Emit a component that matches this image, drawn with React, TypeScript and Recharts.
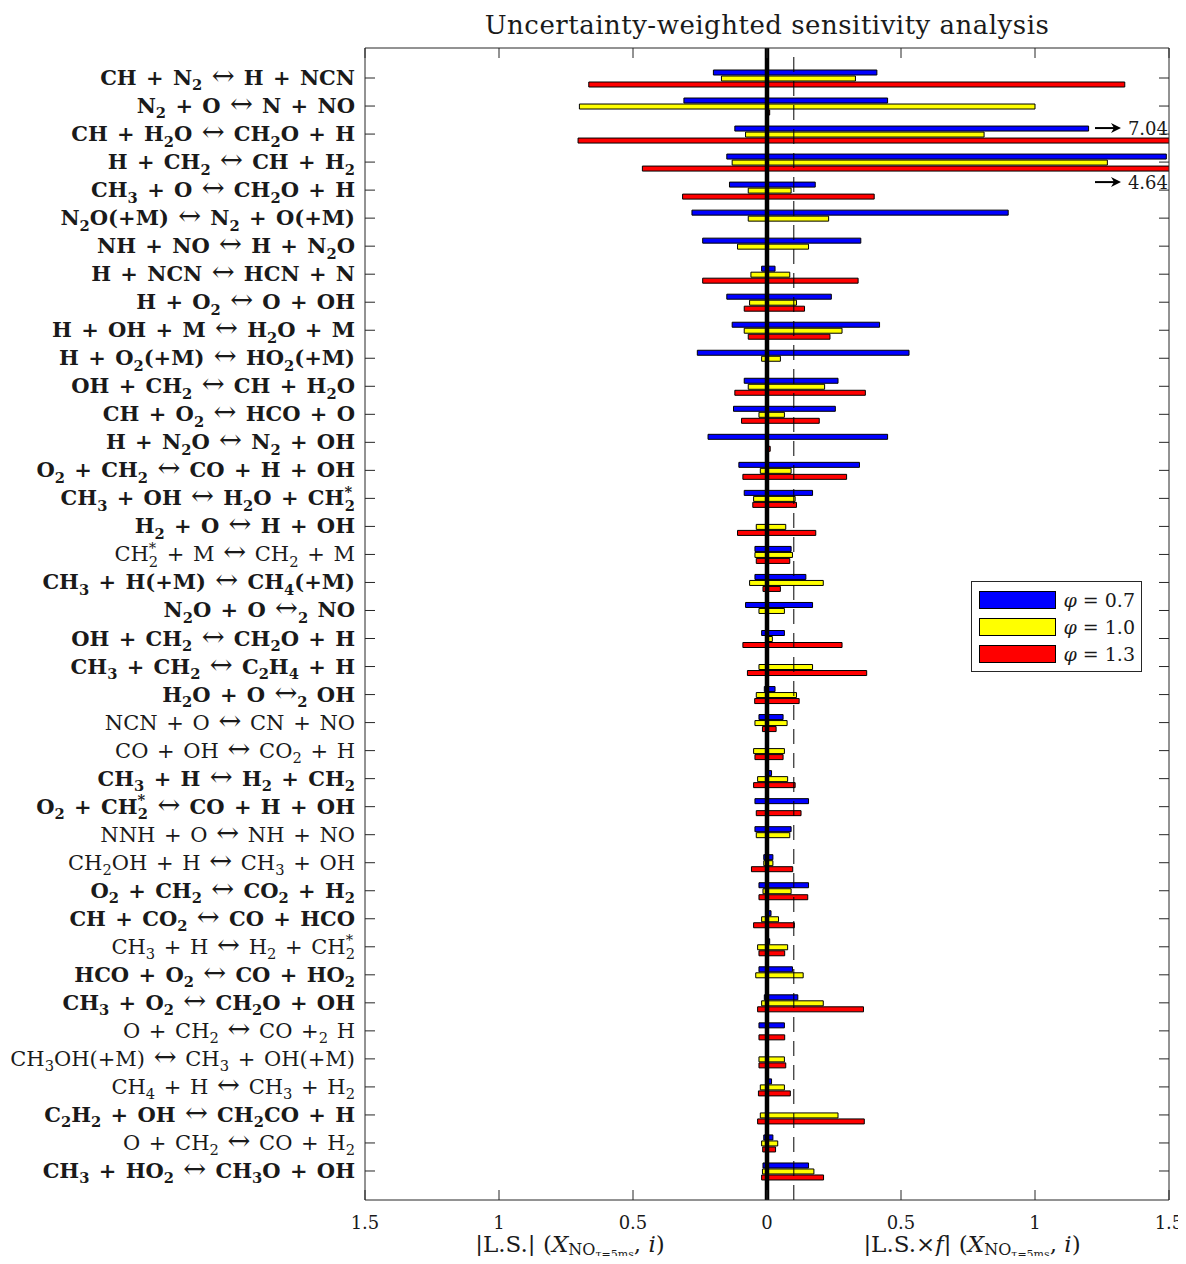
import React from 'react';
import { BarChart, Bar, XAxis, YAxis, ReferenceLine, ReferenceDot, Legend } from 'recharts';

const SERIF = '"DejaVu Serif", serif';
const AXIS = '#262626';
const TICK = 10;

const reactions = [
  'CH + N_2 ↔ H + NCN',
  'N_2 + O ↔ N + NO',
  'CH + H_2O ↔ CH_2O + H',
  'H + CH_2 ↔ CH + H_2',
  'CH_3 + O ↔ CH_2O + H',
  'N_2O(+M) ↔ N_2 + O(+M)',
  'NH + NO ↔ H + N_2O',
  'H + NCN ↔ HCN + N',
  'H + O_2 ↔ O + OH',
  'H + OH + M ↔ H_2O + M',
  'H + O_2(+M) ↔ HO_2(+M)',
  'OH + CH_2 ↔ CH + H_2O',
  'CH + O_2 ↔ HCO + O',
  'H + N_2O ↔ N_2 + OH',
  'O_2 + CH_2 ↔ CO + H + OH',
  'CH_3 + OH ↔ H_2O + CH^*_2',
  'H_2 + O ↔ H + OH',
  'CH^*_2 + M ↔ CH_2 + M',
  'CH_3 + H(+M) ↔ CH_4(+M)',
  'N_2O + O ↔_2 NO',
  'OH + CH_2 ↔ CH_2O + H',
  'CH_3 + CH_2 ↔ C_2H_4 + H',
  'H_2O + O ↔_2 OH',
  'NCN + O ↔ CN + NO',
  'CO + OH ↔ CO_2 + H',
  'CH_3 + H ↔ H_2 + CH_2',
  'O_2 + CH^*_2 ↔ CO + H + OH',
  'NNH + O ↔ NH + NO',
  'CH_2OH + H ↔ CH_3 + OH',
  'O_2 + CH_2 ↔ CO_2 + H_2',
  'CH + CO_2 ↔ CO + HCO',
  'CH_3 + H ↔ H_2 + CH^*_2',
  'HCO + O_2 ↔ CO + HO_2',
  'CH_3 + O_2 ↔ CH_2O + OH',
  'O + CH_2 ↔ CO +_2 H',
  'CH_3OH(+M) ↔ CH_3 + OH(+M)',
  'CH_4 + H ↔ CH_3 + H_2',
  'C_2H_2 + OH ↔ CH_2CO + H',
  'O + CH_2 ↔ CO + H_2',
  'CH_3 + HO_2 ↔ CH_3O + OH',
];

const boldLabels = [
  true, true, true, true, true, true, true, true, true, true,
  true, true, true, true, true, true, true, false, true, true,
  true, true, true, false, false, true, true, false, false, true,
  true, false, true, true, false, false, false, true, false, true,
];

const phiValues = ['0.7', '1.0', '1.3'];
const seriesColors = ['#0000ff', '#ffff00', '#ff0000'];

// |L.S.| (left side) and |L.S. x f| (right side) for each phi
const blueLS = [0.2, 0.31, 0.12, 0.15, 0.14, 0.28, 0.24, 0.02, 0.15, 0.13, 0.26, 0.085, 0.125, 0.22, 0.105, 0.085, 0, 0.045, 0.045, 0.08, 0.02, 0, 0.01, 0.03, 0, 0.005, 0.045, 0.045, 0.012, 0.03, 0.002, 0, 0.03, 0.01, 0.03, 0, 0, 0, 0.012, 0.015];
const blueLSf = [0.41, 0.45, 1.2, 1.49, 0.18, 0.9, 0.35, 0.03, 0.24, 0.42, 0.53, 0.265, 0.255, 0.45, 0.345, 0.17, 0, 0.09, 0.145, 0.17, 0.065, 0, 0.03, 0.06, 0, 0.017, 0.155, 0.09, 0.022, 0.155, 0.015, 0.01, 0.095, 0.115, 0.065, 0, 0.017, 0, 0.022, 0.155];
const yellowLS = [0.17, 0.7, 0.08, 0.13, 0.07, 0.07, 0.11, 0.06, 0.065, 0.085, 0.02, 0.07, 0.03, 0, 0.025, 0.05, 0.04, 0.045, 0.065, 0.03, 0.005, 0.03, 0.04, 0.045, 0.05, 0.035, 0, 0.04, 0.012, 0.015, 0.02, 0.035, 0.042, 0.02, 0, 0.03, 0.025, 0.025, 0.02, 0.017];
const yellowLSf = [0.33, 1.0, 0.81, 1.27, 0.09, 0.23, 0.155, 0.085, 0.11, 0.28, 0.05, 0.215, 0.065, 0, 0.09, 0.105, 0.07, 0.095, 0.21, 0.065, 0.02, 0.17, 0.11, 0.075, 0.065, 0.077, 0, 0.085, 0.022, 0.09, 0.043, 0.077, 0.135, 0.21, 0, 0.065, 0.065, 0.265, 0.04, 0.175];
const redLS = [0.665, 0, 0.705, 0.465, 0.315, 0, 0, 0.24, 0.085, 0.07, 0, 0.12, 0.095, 0, 0.09, 0.053, 0.11, 0.04, 0.015, 0, 0.09, 0.073, 0.046, 0.017, 0.045, 0.05, 0.04, 0, 0.058, 0.03, 0.05, 0.03, 0, 0.035, 0.03, 0.03, 0.032, 0.035, 0.016, 0.02];
const redLSf = [1.335, 0.01, 7.04, 4.64, 0.4, 0, 0, 0.34, 0.14, 0.235, 0, 0.367, 0.195, 0.012, 0.297, 0.11, 0.182, 0.085, 0.05, 0, 0.28, 0.372, 0.12, 0.034, 0.06, 0.105, 0.127, 0, 0.096, 0.152, 0.102, 0.066, 0, 0.36, 0.066, 0.07, 0.087, 0.363, 0.032, 0.211];

const xTicks = [-1.5, -1, -0.5, 0, 0.5, 1, 1.5];
const threshold = 0.1;
const xMax = 1.5;

// values that run past the axis limit, annotated with an arrow
const overflowNotes = [
  { reaction: 'CH + H_2O ↔ CH_2O + H', value: 7.04, dy: -6 },
  { reaction: 'H + CH_2 ↔ CH + H_2', value: 4.64, dy: 20 },
];

const data = reactions.map((name, i) => ({
  name,
  blue: [-blueLS[i], blueLSf[i]],
  yellow: [-yellowLS[i], yellowLSf[i]],
  red: [-redLS[i], redLSf[i]],
}));

type Part = { text: string; type: 'n' | 'sub' | 'sup' | 'arrow' };

function parseRich(s: string): Part[] {
  const parts: Part[] = [];
  let buf = '';
  let i = 0;
  const flush = () => {
    if (buf) { parts.push({ text: buf, type: 'n' }); buf = ''; }
  };
  while (i < s.length) {
    const c = s[i];
    if (c === '_' || c === '^') {
      flush();
      let grp = '';
      if (s[i + 1] === '{') {
        const end = s.indexOf('}', i + 2);
        grp = s.slice(i + 2, end);
        i = end + 1;
      } else {
        grp = s[i + 1];
        i += 2;
      }
      parts.push({ text: grp, type: c === '_' ? 'sub' : 'sup' });
    } else if (c === '↔') {
      flush();
      parts.push({ text: c, type: 'arrow' });
      i++;
    } else {
      buf += c;
      i++;
    }
  }
  flush();
  return parts;
}

function richTspans(s: string, fs: number) {
  const parts = parseRich(s);
  let cur = 0;
  return parts.map((p, k) => {
    const target = p.type === 'sub' ? fs * 0.26 : p.type === 'sup' ? -fs * 0.4 : 0;
    const dy = target - cur;
    cur = target;
    const prev = parts[k - 1];
    const dx = p.type === 'sub' && prev && prev.type === 'sup' ? -fs * 0.7 * 0.5 * prev.text.length : 0;
    const size = p.type === 'n' ? fs : p.type === 'arrow' ? fs * 1.3 : fs * 0.7;
    return (
      <tspan key={k} dy={dy} dx={dx} fontSize={size} fontWeight={p.type === 'arrow' ? 400 : undefined}>
        {p.text}
      </tspan>
    );
  });
}

const LABEL_FS = 21;

const LeftTick = (props: any) => {
  const { x, y, payload } = props;
  const i = reactions.indexOf(payload.value);
  const bold = boldLabels[i];
  return (
    <g>
      <line x1={x} x2={x + TICK} y1={y} y2={y} stroke={AXIS} strokeWidth={1} />
      <text
        x={x - 10}
        y={y + 7}
        textAnchor="end"
        fontFamily={SERIF}
        fontWeight={bold ? 700 : 400}
        fontSize={LABEL_FS}
        fill="#1a1a1a"
        style={{ wordSpacing: 2 }}
      >
        {richTspans(payload.value, LABEL_FS)}
      </text>
    </g>
  );
};

const RightTick = (props: any) => {
  const { x, y } = props;
  return <line x1={x} x2={x - TICK} y1={y} y2={y} stroke={AXIS} strokeWidth={1} />;
};

const BottomTick = (props: any) => {
  const { x, y, payload } = props;
  return (
    <g>
      <line x1={x} x2={x} y1={y} y2={y - TICK} stroke={AXIS} strokeWidth={1} />
      <text x={x} y={y + 29} textAnchor="middle" fontFamily={SERIF} fontSize={18} fill="#1a1a1a">
        {String(Math.abs(payload.value))}
      </text>
    </g>
  );
};

const TopTick = (props: any) => {
  const { x, y } = props;
  return <line x1={x} x2={x} y1={y} y2={y + TICK} stroke={AXIS} strokeWidth={1} />;
};

const XLabelText = ({ x, y, prefix }: { x: number; y: number; prefix: React.ReactNode }) => (
  <text x={x} y={y} textAnchor="middle" fontFamily={SERIF} fontSize={23} fill="#1a1a1a">
    {prefix}
    <tspan> (</tspan>
    <tspan fontStyle="italic">X</tspan>
    <tspan fontSize={16} dy={3}>NO</tspan>
    <tspan fontSize={11} dy={2.5}>τ=5ms</tspan>
    <tspan dy={-5.5}>, </tspan>
    <tspan fontStyle="italic">i</tspan>
    <tspan>)</tspan>
  </text>
);

const AxisTitles = (props: any) => {
  const vb = props.viewBox || {};
  const { x = 0, y = 0, width = 0 } = vb;
  return (
    <g>
      <XLabelText x={x + width * 0.255} y={y + 52} prefix={<tspan>|L.S.|</tspan>} />
      <XLabelText
        x={x + width * 0.755}
        y={y + 52}
        prefix={
          <>
            <tspan>|L.S.×</tspan>
            <tspan fontStyle="italic">f</tspan>
            <tspan>|</tspan>
          </>
        }
      />
    </g>
  );
};

const OverflowMark = (props: any) => {
  const { cx, cy, note } = props;
  if (cx == null || cy == null) return null;
  const yy = cy + note.dy;
  return (
    <g>
      <line x1={cx - 74} x2={cx - 54} y1={yy} y2={yy} stroke="#000" strokeWidth={2} />
      <polygon points={`${cx - 48},${yy} ${cx - 58},${yy - 5} ${cx - 55},${yy} ${cx - 58},${yy + 5}`} fill="#000" />
      <text x={cx - 1} y={yy + 7} textAnchor="end" fontFamily={SERIF} fontSize={18} fill="#1a1a1a">
        {note.value.toFixed(2)}
      </text>
    </g>
  );
};

const LegendBox = (props: any) => {
  const payload = props.payload || [];
  return (
    <div
      style={{
        border: `1px solid ${AXIS}`,
        background: '#fff',
        padding: '4px 6px 4px 7px',
        fontFamily: SERIF,
        fontSize: 19,
        color: '#1a1a1a',
        width: 156,
      }}
    >
      {payload.map((p: any, k: number) => (
        <div key={k} style={{ display: 'flex', alignItems: 'center', height: 27 }}>
          <div
            style={{
              width: 80,
              height: 18,
              background: p.color,
              border: '1px solid #000',
              boxSizing: 'border-box',
            }}
          />
          <span style={{ marginLeft: 7, whiteSpace: 'nowrap' }}>
            <i>φ</i> = {p.value}
          </span>
        </div>
      ))}
    </div>
  );
};

export default function App() {
  const W = 1178;
  const H = 1248;
  const yPad = { top: 16, bottom: 15 };
  return (
    <div style={{ position: 'relative', width: W, height: H }}>
      <style>{'.recharts-surface { overflow: visible; }'}</style>
      <div
        style={{
          position: 'absolute',
          left: 357,
          width: 804,
          top: 1,
          textAlign: 'center',
          fontFamily: SERIF,
          fontSize: 26,
          letterSpacing: 0.5,
          color: '#1a1a1a',
          lineHeight: '32px',
          zIndex: 2,
        }}
      >
        Uncertainty-weighted sensitivity analysis
      </div>
      <BarChart
        width={W}
        height={H}
        data={data}
        layout="vertical"
        margin={{ top: 0, right: 8, bottom: 0, left: 0 }}
        barSize={5}
        barGap={1}
      >
        <XAxis
          type="number"
          domain={[-xMax, xMax]}
          ticks={xTicks}
          allowDataOverflow
          interval={0}
          height={56}
          tickSize={0}
          tickMargin={0}
          tickLine={false}
          axisLine={{ stroke: AXIS }}
          tick={BottomTick}
          label={AxisTitles}
        />
        <XAxis
          xAxisId="top"
          orientation="top"
          type="number"
          domain={[-xMax, xMax]}
          ticks={xTicks}
          allowDataOverflow
          interval={0}
          height={40}
          tickSize={0}
          tickMargin={0}
          tickLine={false}
          axisLine={{ stroke: AXIS }}
          tick={TopTick}
        />
        <YAxis
          type="category"
          dataKey="name"
          width={357}
          interval={0}
          padding={yPad}
          tickSize={0}
          tickMargin={0}
          tickLine={false}
          axisLine={{ stroke: AXIS }}
          tick={LeftTick}
        />
        <YAxis
          yAxisId="right"
          orientation="right"
          type="category"
          dataKey="name"
          width={9}
          interval={0}
          padding={yPad}
          tickSize={0}
          tickMargin={0}
          tickLine={false}
          axisLine={{ stroke: AXIS }}
          tick={RightTick}
        />
        <Bar dataKey="blue" name={phiValues[0]} fill={seriesColors[0]} stroke="#000" strokeWidth={1} isAnimationActive={false} />
        <Bar dataKey="yellow" name={phiValues[1]} fill={seriesColors[1]} stroke="#000" strokeWidth={1} isAnimationActive={false} />
        <Bar dataKey="red" name={phiValues[2]} fill={seriesColors[2]} stroke="#000" strokeWidth={1} isAnimationActive={false} />
        <ReferenceLine x={threshold} stroke="#000" strokeWidth={1} strokeDasharray="15 9" />
        <ReferenceLine x={0} stroke="#000" strokeWidth={4.5} />
        {overflowNotes.map((n) => (
          <ReferenceDot
            key={n.reaction}
            x={xMax}
            y={n.reaction}
            r={0}
            shape={(p: any) => <OverflowMark {...p} note={n} />}
          />
        ))}
        <Legend
          layout="vertical"
          align="center"
          verticalAlign="middle"
          content={LegendBox}
          wrapperStyle={{ left: 963, top: 573, width: 172, height: 'auto' }}
        />
      </BarChart>
    </div>
  );
}
